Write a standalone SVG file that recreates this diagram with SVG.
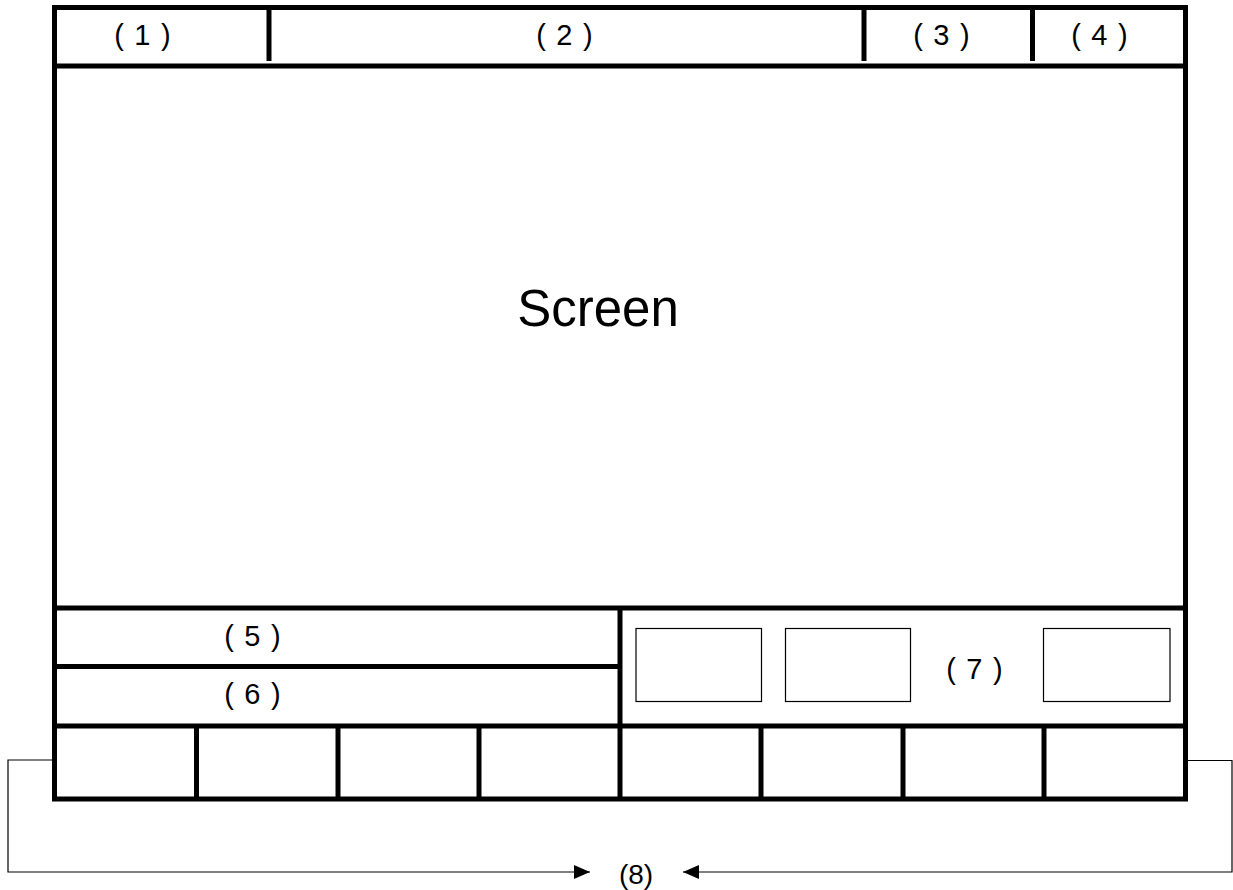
<svg xmlns="http://www.w3.org/2000/svg" width="1233" height="890" viewBox="0 0 1233 890">
<defs>
<style>
.thick{stroke:#000;stroke-width:5;fill:none}
.thin{stroke:#000;stroke-width:1.2;fill:none}
.lbl{font-family:"Liberation Sans",Arial,sans-serif;font-size:29px;fill:#000;text-anchor:middle;letter-spacing:1.2px}
.big{font-family:"Liberation Sans",Arial,sans-serif;font-size:51px;fill:#000;text-anchor:middle}
.note{font-family:"Liberation Sans",Arial,sans-serif;font-size:28px;fill:#000;text-anchor:middle}
</style>
<marker id="arr" viewBox="0 0 16 14" refX="16" refY="7" markerWidth="16" markerHeight="14" markerUnits="userSpaceOnUse" orient="auto">
<path d="M0,0 L16,7 L0,14 Z" fill="#000"/>
</marker>
</defs>
<rect width="1233" height="890" fill="#fff"/>
<g id="frame">
<rect class="thick" x="54.5" y="7.5" width="1131" height="791.5"/>
</g>
<g id="topbar">
<line class="thick" x1="54.5" y1="66" x2="1185.5" y2="66"/>
<line class="thick" x1="269" y1="7.5" x2="269" y2="61"/>
<line class="thick" x1="864" y1="7.5" x2="864" y2="61"/>
<line class="thick" x1="1032.5" y1="7.5" x2="1032.5" y2="61"/>
</g>
<g id="label1"><text class="lbl" x="143" y="45">( 1 )</text></g>
<g id="label2"><text class="lbl" x="565" y="45">( 2 )</text></g>
<g id="label3"><text class="lbl" x="942" y="45">( 3 )</text></g>
<g id="label4"><text class="lbl" x="1100" y="45">( 4 )</text></g>
<g id="screen"><text class="big" x="598" y="326">Screen</text></g>
<g id="panel">
<line class="thick" x1="54.5" y1="608" x2="1185.5" y2="608"/>
<line class="thick" x1="54.5" y1="666.5" x2="620" y2="666.5"/>
<line class="thick" x1="54.5" y1="726" x2="1185.5" y2="726"/>
<line class="thick" x1="620" y1="608" x2="620" y2="799"/>
</g>
<g id="label5"><text class="lbl" x="253" y="646">( 5 )</text></g>
<g id="label6"><text class="lbl" x="253" y="704">( 6 )</text></g>
<g id="area7">
<rect class="thin" x="636" y="628.5" width="125.5" height="73"/>
<rect class="thin" x="785.5" y="628.5" width="125" height="73"/>
<rect class="thin" x="1043.5" y="628.5" width="126.5" height="73"/>
<text class="lbl" x="975" y="679">( 7 )</text>
</g>
<g id="buttons">
<line class="thick" x1="196.5" y1="726" x2="196.5" y2="799"/>
<line class="thick" x1="338" y1="726" x2="338" y2="799"/>
<line class="thick" x1="479" y1="726" x2="479" y2="799"/>
<line class="thick" x1="761" y1="726" x2="761" y2="799"/>
<line class="thick" x1="903" y1="726" x2="903" y2="799"/>
<line class="thick" x1="1044" y1="726" x2="1044" y2="799"/>
</g>
<g id="connectors">
<polyline class="thin" points="53,760 8,760 8,872 590,872" marker-end="url(#arr)"/>
<polyline class="thin" points="1188,760.5 1232,760.5 1232,872 683,872" marker-end="url(#arr)"/>
</g>
<g id="label8"><text class="note" x="636" y="884">(8)</text></g>
</svg>
